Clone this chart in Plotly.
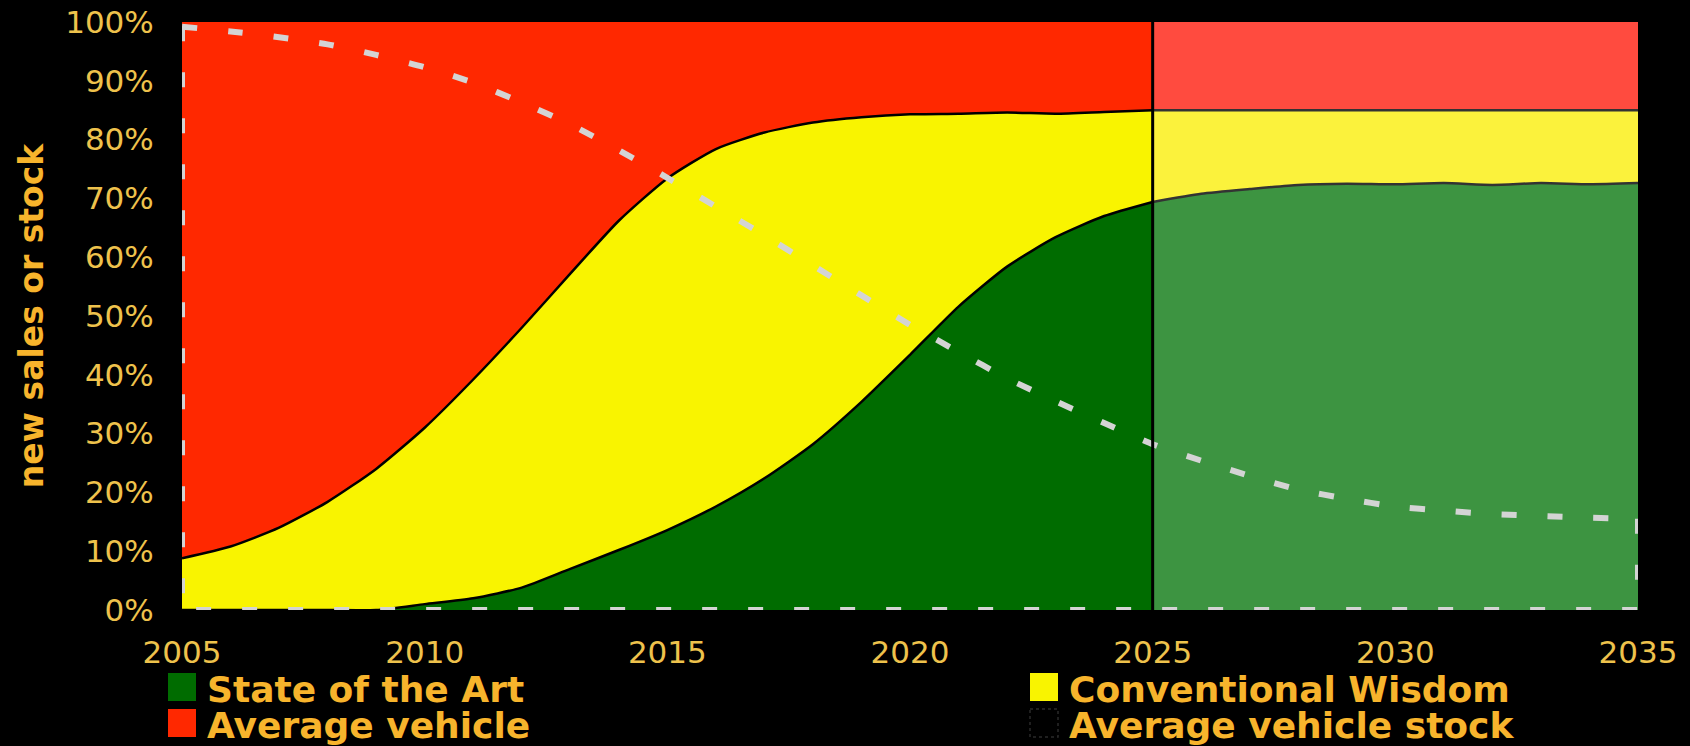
import plotly.graph_objects as go

# ---------------- data ----------------
years = list(range(2005, 2036))

# share of new sales, % (stacked bottom -> top)
state_of_the_art = [0.0, 0.0, 0.0, 0.0, 0.0,
                    1.0, 2.0, 3.8, 7.0, 10.2,
                    13.6, 17.6, 22.4, 28.2, 35.4,
                    43.4, 51.6, 58.4, 63.4, 67.0,
                    69.4,
                    70.8, 71.6, 72.3, 72.5, 72.4,
                    72.6, 72.3, 72.6, 72.4, 72.6]
conventional_wisdom = [8.8, 10.8, 14.0, 18.4, 24.0,
                       30.0, 37.2, 44.2, 50.2, 56.0,
                       59.8, 60.8, 58.8, 54.7, 48.4,
                       40.9, 32.8, 26.2, 21.0, 17.7,
                       15.6,
                       14.2, 13.4, 12.7, 12.5, 12.6,
                       12.4, 12.7, 12.4, 12.6, 12.4]
average_vehicle = [91.2, 89.2, 86.0, 81.6, 76.0,
                   69.0, 60.8, 52.0, 42.8, 33.8,
                   26.6, 21.6, 18.8, 17.1, 16.2,
                   15.7, 15.6, 15.4, 15.6, 15.3,
                   15.0,
                   15.0, 15.0, 15.0, 15.0, 15.0,
                   15.0, 15.0, 15.0, 15.0, 15.0]
# share of the vehicle stock that is "average vehicle", %
average_vehicle_stock = [99.2, 98.4, 97.4, 96.2, 94.4,
                         92.3, 89.7, 86.3, 82.6, 78.2,
                         73.5, 68.6, 63.7, 58.6, 53.5,
                         48.5, 43.9, 39.4, 35.5, 31.8,
                         28.2,
                         25.4, 22.8, 20.5, 18.9, 17.6,
                         16.9, 16.3, 16.0, 15.7, 15.5]

split_year = 2025
y_ticks = [0, 10, 20, 30, 40, 50, 60, 70, 80, 90, 100]
y_tick_labels = [f"{v}%" for v in y_ticks]
x_ticks = [2005, 2010, 2015, 2020, 2025, 2030, 2035]
x_tick_labels = [str(v) for v in x_ticks]

legend_labels = ["State of the Art", "Conventional Wisdom",
                 "Average vehicle", "Average vehicle stock"]

# ---------------- styling ----------------
W, H = 1690, 746
ML, MR, MT, MB = 182, 52, 22, 136

GREEN, YELLOW, RED = "#006C00", "#F9F400", "#FF2800"
GREEN_L, YELLOW_L, RED_L = "#3D9441", "#FBF23C", "#FF4B3F"
STOCK = "#D4D4D4"
TICK_COL = "#EEC24C"
TEXT_COL = "#F7B42C"
FONT = "DejaVu Sans"

fig = go.Figure()

segments = [
    ("pre", [i for i, y in enumerate(years) if y <= split_year],
     (GREEN, YELLOW, RED), "#000000"),
    ("post", [i for i, y in enumerate(years) if y >= split_year],
     (GREEN_L, YELLOW_L, RED_L), "#333333"),
]
for name, idx, cols, lc in segments:
    xs = [years[i] for i in idx]
    for series, col, lw in ((state_of_the_art, cols[0], 2.5),
                            (conventional_wisdom, cols[1], 2.5),
                            (average_vehicle, cols[2], 0)):
        fig.add_trace(go.Scatter(
            x=xs, y=[series[i] for i in idx], stackgroup=name,
            mode="lines", fillcolor=col,
            line=dict(color=lc, width=lw, shape="spline", smoothing=0.6),
            showlegend=False, hoverinfo="skip"))

# dashed outline of the stock share
fig.add_trace(go.Scatter(
    x=years, y=average_vehicle_stock, mode="lines",
    line=dict(color=STOCK, width=6, dash="15px,31px", shape="spline", smoothing=0.6),
    showlegend=False, hoverinfo="skip"))
fig.add_trace(go.Scatter(
    x=[years[-1], years[-1], years[0], years[0]],
    y=[average_vehicle_stock[-1], 0, 0, average_vehicle_stock[0]],
    mode="lines",
    line=dict(color=STOCK, width=6, dash="15px,31px"),
    showlegend=False, hoverinfo="skip"))

shapes = [dict(type="line", xref="x", yref="y", x0=split_year, x1=split_year,
               y0=0, y1=100, line=dict(color="#000000", width=3), layer="above")]

# ---------------- legend (drawn as squares + text) ----------------
PW, PH = W - ML - MR, H - MT - MB


def px_x(px):
    return (px - ML) / PW


def px_y(py):
    return (H - MB - py) / PH


legend_items = [
    (legend_labels[0], GREEN, 168, 687, 689),
    (legend_labels[1], YELLOW, 1030, 687, 689),
    (legend_labels[2], RED, 168, 723, 725),
    (legend_labels[3], "#000000", 1030, 723, 725),
]
annotations = []
for label, col, x0, yc, ty in legend_items:
    border = dict(color="#2a2a2a", width=1.5, dash="dot") if col == "#000000" else dict(width=0)
    shapes.append(dict(type="rect", xref="paper", yref="paper",
                       x0=px_x(x0), x1=px_x(x0 + 28),
                       y0=px_y(yc - 14), y1=px_y(yc + 14),
                       fillcolor=col, line=border, layer="above"))
    annotations.append(dict(xref="paper", yref="paper", x=px_x(x0 + 38), y=px_y(ty),
                            xanchor="left", yanchor="middle", showarrow=False,
                            borderpad=0,
                            text=f"<b>{label}</b>",
                            font=dict(family=FONT, size=36, color=TEXT_COL)))

fig.update_layout(
    width=W, height=H,
    margin=dict(l=ML, r=MR, t=MT, b=MB, pad=0),
    paper_bgcolor="#000000", plot_bgcolor="#000000",
    showlegend=False,
    shapes=shapes, annotations=annotations,
    xaxis=dict(range=[years[0], years[-1]], tickvals=x_ticks, ticktext=x_tick_labels,
               showgrid=False, zeroline=False, showline=False, automargin=False,
               ticks="outside", ticklen=15, tickcolor="rgba(0,0,0,0)",
               tickfont=dict(family=FONT, size=31, color=TICK_COL)),
    yaxis=dict(range=[0, 100], tickvals=y_ticks, ticktext=y_tick_labels,
               showgrid=False, zeroline=False, showline=False, automargin=False,
               ticks="outside", ticklen=21, tickcolor="rgba(0,0,0,0)",
               tickfont=dict(family=FONT, size=31, color=TICK_COL),
               title=dict(text="<b>new sales or stock</b>", standoff=11,
                          font=dict(family=FONT, size=33, color=TEXT_COL))),
)

fig.write_html("out.html")
